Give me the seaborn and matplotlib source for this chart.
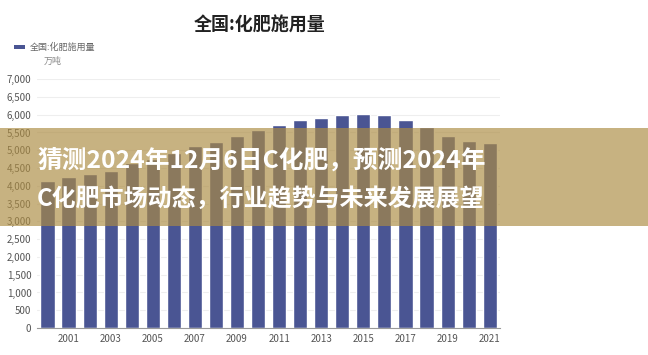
import matplotlib.pyplot as plt
import seaborn as sns
from matplotlib.patches import Rectangle

# data: national fertilizer use, 10k tonnes
years = [str(y) for y in range(2000, 2022)]
usage = [4146, 4254, 4339, 4412, 4637, 4766, 4928, 5108, 5239, 5404, 5562,
         5704, 5839, 5912, 5996, 6023, 5984, 5859, 5653, 5404, 5251, 5191]
tick_years = [str(y) for y in range(2001, 2022, 2)]

title = '全国:化肥施用量'
unit = '万吨'
headline = ['猜测2024年12月6日C化肥，预测2024年', 'C化肥市场动态，行业趋势与未来发展展望']

sns.set_theme(style="white")
plt.rcParams['font.family'] = ['Noto Sans CJK SC', 'DejaVu Sans']

fig = plt.figure(figsize=(6.48, 3.55), dpi=100)
ax = fig.add_axes([0.057, 0.076, 0.715, 0.701])

bar_color = '#4a5593'
sns.barplot(x=years, y=usage, color=bar_color, width=0.67, saturation=1, ax=ax)

ax.set_ylim(0, 7000)
ax.set_yticks(range(0, 7001, 500))
ax.set_yticklabels([f'{v:,}' for v in range(0, 7001, 500)], fontsize=7, color='#555555')
ax.set_xticks([years.index(y) for y in tick_years])
ax.set_xticklabels(tick_years, fontsize=7, color='#555555')
ax.set_xlim(-0.5, len(years) - 0.5)
ax.yaxis.grid(True, color='#eeeeee', linewidth=0.8)
ax.set_axisbelow(True)
ax.tick_params(axis='both', length=0, pad=4)
for s in ['top', 'right', 'left']:
    ax.spines[s].set_visible(False)
ax.spines['bottom'].set_color('#999999')
ax.spines['bottom'].set_linewidth(0.8)
ax.set_xlabel('')
ax.set_ylabel('')

# title, legend and unit
fig.text(0.40, 0.928, title, ha='center', va='center', fontsize=13,
         fontweight='bold', color='#222222')
fig.patches.append(Rectangle((0.022, 0.862), 0.016, 0.012, transform=fig.transFigure,
                             facecolor=bar_color, linewidth=0, figure=fig))
fig.text(0.046, 0.868, title, ha='left', va='center', fontsize=6.5, color='#666666')
fig.text(0.067, 0.828, unit, ha='left', va='center', fontsize=6.5, color='#888888')

# overlay band with headline
fig.patches.append(Rectangle((0, 0.363), 1, 0.276, transform=fig.transFigure,
                             facecolor='#ac8c43', alpha=0.67, linewidth=0,
                             figure=fig, zorder=5))
fig.text(0.058, 0.548, headline[0], ha='left', va='center', fontsize=17.8,
         fontweight='bold', color='white', zorder=6)
fig.text(0.056, 0.440, headline[1], ha='left', va='center', fontsize=17.3,
         fontweight='bold', color='white', zorder=6)

plt.savefig('out.png', dpi=100)
